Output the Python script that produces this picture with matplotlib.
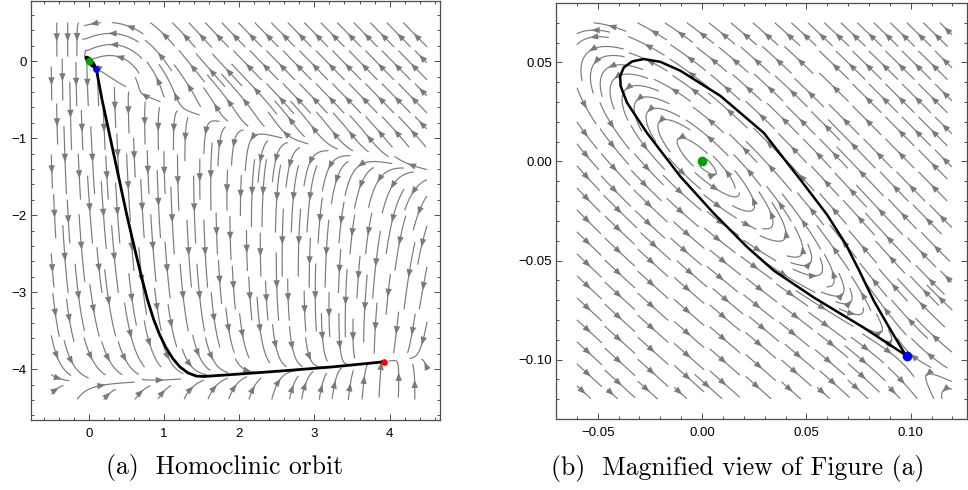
import math

import numpy as np
import matplotlib

matplotlib.use("Agg")
import matplotlib.pyplot as plt
from matplotlib.patches import FancyArrowPatch
from matplotlib.ticker import MultipleLocator, FuncFormatter


# равновесия
GREEN_PT = (0.0, 0.0)
BLUE_PT = (0.098, -0.098)
RED_PT = (3.92, -3.905)

# длинная ветвь орбиты (рисунок a), от синей точки к красной
BRANCH_X = [0.098, 0.175, 0.285, 0.395, 0.505, 0.625, 0.700, 0.780, 0.860, 0.940,
            1.025, 1.115, 1.21, 1.32, 1.43, 1.53, 1.92, 2.58, 3.25, 3.92]
BRANCH_Y = [-0.098, -0.5, -1.0, -1.5, -2.0, -2.5, -2.8, -3.1, -3.35, -3.55,
            -3.72, -3.86, -3.97, -4.05, -4.09, -4.095, -4.069, -4.022, -3.970,
            -3.905]

# гомоклиническая петля (рисунок b)
LOOP_X = [0.0976, 0.0895, 0.0823, 0.0755, 0.0690, 0.0600, 0.0472, 0.0296, 0.0088,
          -0.0104, -0.0200, -0.0280, -0.0335, -0.0375, -0.0393, -0.0390, -0.0360,
          -0.0264, -0.0104, 0.0056, 0.0216, 0.0344, 0.0536, 0.0775, 0.0976]
LOOP_Y = [-0.0978, -0.0835, -0.0703, -0.0555, -0.0420, -0.0270, -0.0093, 0.0144,
          0.0331, 0.0458, 0.0503, 0.0517, 0.0505, 0.0475, 0.0430, 0.0380, 0.0297,
          0.0144, -0.0076, -0.0262, -0.0432, -0.0551, -0.0687, -0.0839, -0.0978]

# параметры поля
K_BAND = 6.0
A_SHEAR = 1.0
B_LOOP = 0.55
SWIRL_CENTER = (0.3, -0.4)
SWIRL_ZONE = (0.2, 0.25, 0.9)

STREAM_COLOR = "#7a7a7a"
FRAME_COLOR = "#4d4d4d"


def field_a(x, y):
    u = x + y
    g1 = -x / math.sqrt(1 + 2.76 * x) if x >= 0 else -4.0 * x
    g2 = -4.02 + 0.03 * x
    z = y - g1
    phi = z * (0.5 - 0.5 * math.tanh(z / 0.2))
    f = K_BAND * (y - g2) * phi
    bx, by = -u, u + f
    n = math.hypot(bx, by) or 1.0
    # завихрение над началом координат
    rx, ry = -(y - SWIRL_CENTER[1]), x - SWIRL_CENTER[0]
    m = math.hypot(rx, ry) or 1.0
    cx, cy, rad = SWIRL_ZONE
    top = 0.5 * (1 + math.tanh(z / 0.1))
    w = top * math.exp(-((x - cx) ** 2 + (y - cy) ** 2) / rad ** 2)
    return (1 - w) * bx / n + w * rx / m, (1 - w) * by / n + w * ry / m


def field_b(x, y):
    ps = (BLUE_PT[0] - BLUE_PT[1]) / math.sqrt(2)
    p = (x - y) / math.sqrt(2)
    q = (x + y) / math.sqrt(2)
    dp = -A_SHEAR * q
    dq = B_LOOP * p * (ps - p)
    return (dp + dq) / math.sqrt(2), (dq - dp) / math.sqrt(2)


def trace_streams(field, box, scale, sep=11.0, half_len=34.0, min_len=14.0, step=1.0):
    # равномерно разнесенные линии тока, считаем в пикселях
    x0, x1, y0, y1 = box
    sx, sy = scale
    w, h = (x1 - x0) * sx, (y1 - y0) * sy
    d_test = 0.5 * sep
    cells = {}

    def direction(px, py):
        u, v = field(x0 + px / sx, y0 + py / sy)
        du, dv = u * sx, v * sy
        n = math.hypot(du, dv)
        if n == 0:
            return None
        return du / n, dv / n

    def is_free(px, py, dist):
        ci, cj = int(px // sep), int(py // sep)
        for i in (ci - 1, ci, ci + 1):
            for j in (cj - 1, cj, cj + 1):
                for qx, qy in cells.get((i, j), ()):
                    if (qx - px) ** 2 + (qy - py) ** 2 < dist * dist:
                        return False
        return True

    def walk(px, py, sign):
        pts = []
        for _ in range(int(half_len / step)):
            d1 = direction(px, py)
            if d1 is None:
                break
            mx = px + 0.5 * step * sign * d1[0]
            my = py + 0.5 * step * sign * d1[1]
            if not (0 <= mx <= w and 0 <= my <= h):
                break
            d2 = direction(mx, my)
            if d2 is None:
                break
            nx_ = px + step * sign * d2[0]
            ny_ = py + step * sign * d2[1]
            if not (0 <= nx_ <= w and 0 <= ny_ <= h):
                break
            if not is_free(nx_, ny_, d_test):
                break
            pts.append((nx_, ny_))
            px, py = nx_, ny_
        return pts

    seed_step = sep * 0.5
    lines = []
    n_rows = int(h / seed_step) + 1
    n_cols = int(w / seed_step) + 1
    for r in range(n_rows):
        for c in range(n_cols):
            px = (c + 0.5 * (r % 2)) * seed_step
            py = h - r * seed_step
            if not (0 <= px <= w and 0 <= py <= h):
                continue
            if not is_free(px, py, sep):
                continue
            back = walk(px, py, -1)
            fwd = walk(px, py, 1)
            line = back[::-1] + [(px, py)] + fwd
            if len(line) * step < min_len:
                continue
            for qx, qy in line:
                cells.setdefault((int(qx // sep), int(qy // sep)), []).append((qx, qy))
            lines.append([(x0 + qx / sx, y0 + qy / sy) for qx, qy in line])
    return lines


def draw_streams(ax, lines):
    for line in lines:
        arr = np.array(line)
        ax.plot(arr[:, 0], arr[:, 1], color=STREAM_COLOR, lw=0.85, zorder=1,
                solid_capstyle="butt")
        mid = len(arr) // 2
        a, b = arr[max(mid - 2, 0)], arr[min(mid + 2, len(arr) - 1)]
        ax.add_patch(FancyArrowPatch(
            tuple(a), tuple(b), arrowstyle="-|>,head_length=6,head_width=2.3",
            mutation_scale=1, color=STREAM_COLOR, lw=0, zorder=1,
            shrinkA=0, shrinkB=0))


def minus_fmt(decimals):
    def fmt(v, _):
        s = f"{v:.{decimals}f}"
        if float(s) == 0:
            s = s.lstrip("-")
        return s.replace("-", "\u2212")
    return FuncFormatter(fmt)


def style_axes(ax, major_x, minor_x, major_y, minor_y, decimals):
    ax.xaxis.set_major_locator(MultipleLocator(major_x))
    ax.xaxis.set_minor_locator(MultipleLocator(minor_x))
    ax.yaxis.set_major_locator(MultipleLocator(major_y))
    ax.yaxis.set_minor_locator(MultipleLocator(minor_y))
    ax.xaxis.set_major_formatter(minus_fmt(decimals))
    ax.yaxis.set_major_formatter(minus_fmt(decimals))
    ax.tick_params(which="both", direction="in", top=True, right=True,
                   color=FRAME_COLOR, width=0.7)
    ax.tick_params(which="major", length=4.5, labelsize=9.5)
    ax.tick_params(which="minor", length=2.5)
    ax.tick_params(axis="x", which="major", pad=6)
    ax.tick_params(axis="y", which="major", pad=3)
    for lab in ax.get_xticklabels() + ax.get_yticklabels():
        lab.set_family("Liberation Sans")
    for spine in ax.spines.values():
        spine.set_color(FRAME_COLOR)
        spine.set_linewidth(0.9)


fig = plt.figure(figsize=(9.68, 4.9), dpi=100)
pos_a = [0.032, 0.1429, 0.4225, 0.855]
pos_b = [0.5744, 0.1449, 0.4246, 0.849]
ax_a = fig.add_axes(pos_a)
ax_b = fig.add_axes(pos_b)

# (a) общий вид
xlim_a, ylim_a = (-0.77, 4.67), (-4.66, 0.78)
scale_a = (pos_a[2] * 968 / (xlim_a[1] - xlim_a[0]),
           pos_a[3] * 490 / (ylim_a[1] - ylim_a[0]))
draw_streams(ax_a, trace_streams(field_a, (-0.5, 4.5, -4.4, 0.5), scale_a))
ax_a.plot(LOOP_X, LOOP_Y, color="black", lw=2.0, zorder=3)
ax_a.plot(BRANCH_X, BRANCH_Y, color="black", lw=2.0, zorder=3,
          solid_joinstyle="round")
ax_a.plot(*GREEN_PT, "o", color="#00a000", ms=4.5, zorder=4)
ax_a.plot(*BLUE_PT, "o", color="#0000ff", ms=3.8, zorder=4)
ax_a.plot(*RED_PT, "o", color="#ff0000", ms=3.8, zorder=4)
ax_a.set_xlim(*xlim_a)
ax_a.set_ylim(*ylim_a)
style_axes(ax_a, 1, 0.2, 1, 0.2, 0)

# (b) увеличенный вид
xlim_b, ylim_b = (-0.07, 0.127), (-0.13, 0.08)
scale_b = (pos_b[2] * 968 / (xlim_b[1] - xlim_b[0]),
           pos_b[3] * 490 / (ylim_b[1] - ylim_b[0]))
draw_streams(ax_b, trace_streams(field_b, (-0.06, 0.12, -0.12, 0.07), scale_b))
ax_b.plot(LOOP_X, LOOP_Y, color="black", lw=1.8, zorder=3,
          solid_joinstyle="round")
ax_b.plot(*GREEN_PT, "o", color="#00a000", ms=6, zorder=4)
ax_b.plot(*BLUE_PT, "o", color="#0000ff", ms=6, zorder=4)
ax_b.set_xlim(*xlim_b)
ax_b.set_ylim(*ylim_b)
style_axes(ax_b, 0.05, 0.01, 0.05, 0.01, 2)

fig.text(0.232, 0.046, "(a)  Homoclinic orbit", family="cmr10", fontsize=18.5,
         ha="center", va="center")
fig.text(0.762, 0.043, "(b)  Magnified view of Figure (a)", family="cmr10",
         fontsize=18.5, ha="center", va="center")

fig.savefig("out.png", dpi=100)
